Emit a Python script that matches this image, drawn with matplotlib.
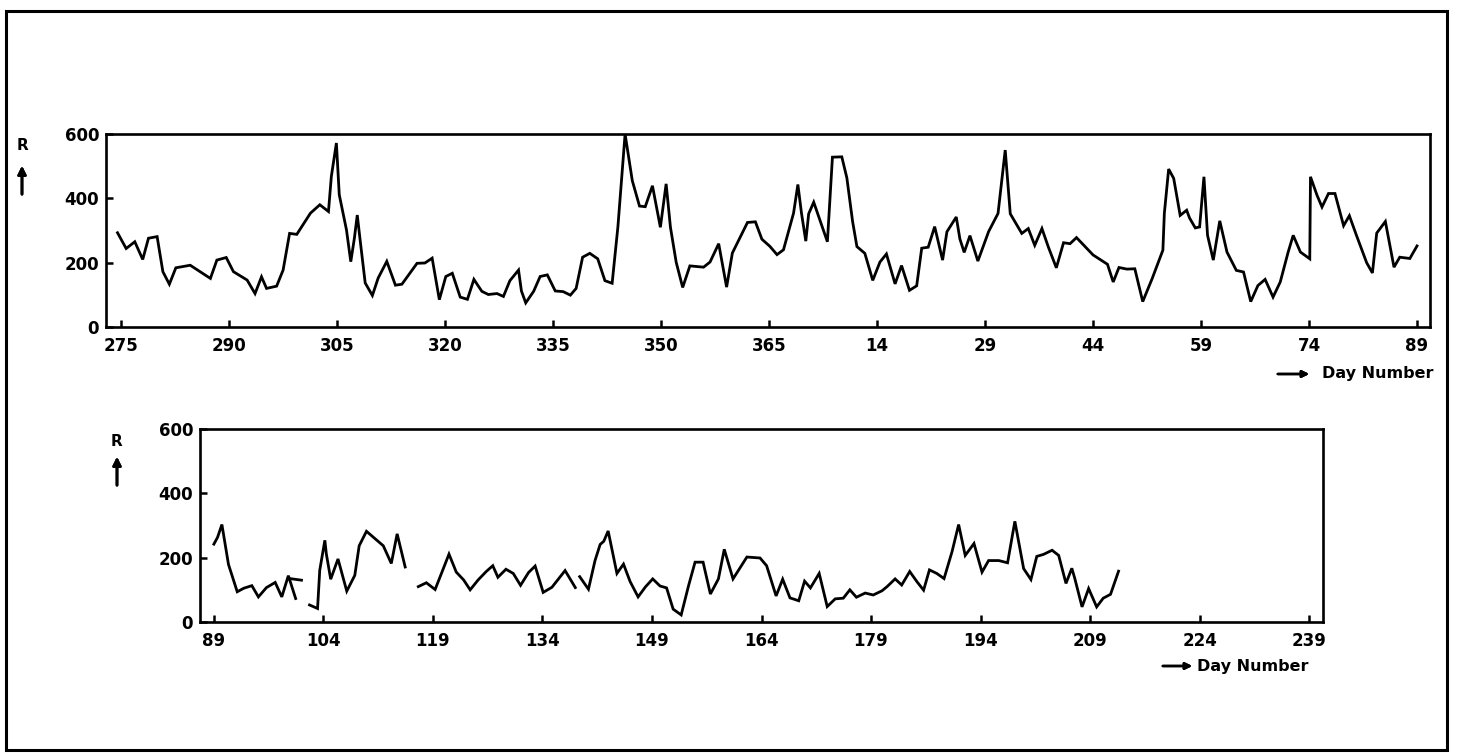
import numpy as np
import matplotlib
matplotlib.use("Agg")
import matplotlib.pyplot as plt
from matplotlib.patches import Rectangle

# upper panel: day index counted from day 275 (0) to day 89 of next year (180)
top_day = [-0.5, 0.7, 1.9, 3, 3.8, 5, 5.8, 6.7, 7.6, 9.6, 12.4, 13.3, 14.6, 15.6, 17.5, 18.6,
           19.5, 20.2, 21.6, 22.5, 23.4, 24.4, 26.3, 27.6, 28.8, 29.2, 29.9, 30.3, 31.3, 31.9,
           32.4, 32.8, 33.2, 33.9, 34.9, 35.7, 36.9, 38.1, 39, 39.9, 41.1, 42.2, 43.2, 44.2,
           45.1, 46, 47.1, 48.1, 49, 50.1, 51, 52.2, 53.1, 54, 55.2, 55.6, 56.2, 57.3, 58.2,
           59.2, 60.3, 61.4, 62.4, 63.2, 64.1, 65.1, 66.2, 67.2, 68.2, 69, 70, 71, 72, 72.8,
           73.8, 74.9, 75.7, 76.3, 77.1, 78, 79, 80.9, 81.8, 83, 84.1, 84.9, 87, 88.1, 89,
           90.1, 91.1, 92, 92.9, 93.4, 94, 94.5, 95.1, 95.5, 96.2, 97.1, 98.1, 98.8, 100.1,
           100.8, 101.6, 102.2, 103.3, 104.4, 105.4, 106.3, 107.5, 108.4, 109.5, 110.5, 111.2,
           112.1, 113, 114.1, 114.7, 116, 116.5, 117.1, 117.9, 119, 120.5, 121.8, 122.8, 123.5,
           125.1, 126, 126.9, 127.9, 128.8, 129.9, 130.9, 131.8, 132.7, 135, 137, 137.8, 138.6,
           139.7, 140.8, 141.9, 143.2, 144.7, 144.9, 145.5, 146.2, 147.1, 148, 148.4, 149.2,
           149.8, 150.4, 150.9, 151.7, 152.6, 153.6, 154.9, 155.9, 156.9, 157.9, 158.9, 160,
           161, 162.1, 162.8, 163.8, 165.1, 165.2, 166.1, 166.8, 167.7, 168.6, 169.8, 170.6,
           171.6, 173, 173.8, 174.4, 175.6, 176.8, 177.6, 179, 180]
top_r = [293, 244, 265, 210, 276, 281, 172, 133, 184, 192, 151, 208, 216, 172, 146, 104,
         156, 120, 127, 177, 291, 288, 354, 380, 359, 468, 572, 411, 302, 203,
         276, 348, 270, 137, 98, 152, 204, 130, 133, 161, 198, 199, 214, 85,
         157, 167, 93, 86, 148, 111, 101, 104, 95, 144, 177, 112, 75, 111, 157,
         162, 112, 110, 99, 120, 217, 229, 212, 144, 136, 311, 600, 455, 376, 374,
         439, 310, 445, 310, 201, 123, 190, 186, 202, 259, 124, 230, 325, 327, 273,
         251, 225, 240, 313, 354, 443, 354, 267, 352, 388, 330, 265, 528, 529,
         464, 328, 250, 229, 145, 202, 227, 134, 191, 114, 128, 245,
         248, 312, 208, 296, 342, 274, 232, 284, 205, 297, 353, 550, 352,
         291, 306, 254, 306, 248, 184, 262, 259, 278, 224, 195, 140, 185,
         180, 181, 79, 150, 239, 353, 491, 462, 347, 363, 339, 308,
         311, 467, 285, 208, 330, 233, 176, 171, 79, 129, 148, 93,
         140, 233, 285, 233, 212, 467, 410, 373, 415, 415, 315, 346,
         284, 200, 168, 292, 328, 186, 217, 213, 252]
top_ticks = [0, 15, 30, 45, 60, 75, 90, 105, 120, 135, 150, 165, 180]
top_labels = ["275", "290", "305", "320", "335", "350", "365", "14", "29", "44", "59", "74", "89"]

# lower panel: day index counted from day 89 (0); NaN = gap in record
bot_day = [0, 0.5, 1.1, 2, 3.2, 4.1, 5.2, 6.1, 7.2, 8.4, 9.3, 10.2, 11.2, np.nan,
           13.1, 14.2, 14.5, 15.2, 15.4, 16, 17, 18.2, 19.3, 19.9, 20.9, 23.2, 24.3, 25.1, 26.2, np.nan,
           28, 29.1, 30.3, 31.2, 32.2, 33.2, 34.2, 35.1, 36.2, 37.3, 38.2, 38.9, 40, 41, 42,
           43.1, 44, 45.1, 46.3, 47.2, 48.1, 49.5, np.nan,
           50.1, 51.3, 52.2, 52.9, 53.4, 54, 55.2, 56.1, 57, 58.1, 59.1, 60.1, 61.1, 62, 62.9,
           64, 65, 65.9, 67, 68, 69.1, 69.9, 71.1, 73, 74.8, 75.7, 77, 77.9, 78.9, 80.1, 80.9,
           81.7, 82.9, 84, 85.1, 86.2, 87.1, 88, 89.2, 90.3, 91.5, 92.2, 93.3, 94.2, 95.3, 96.3,
           97.2, 98, 99, 100, 101.1, 102, 102.9, 104.1, 105.2, 106.1, 107.5, 108.7, 109.7, 110.9,
           111.9, 112.7, 113.6, 114.8, 115.7, 116.7, 117.5, 117.9, 118.9, 119.8, 120.9, 121.8,
           122.8, 123.9]
bot_r = [242, 263, 303, 179, 94, 105, 113, 78, 107, 123, 78, 144, 73, np.nan,
         53, 42, 161, 254, 212, 133, 196, 96, 145, 237, 282, 237, 182, 274, 171, np.nan,
         110, 122, 101, 153, 211, 155, 131, 100, 131, 157, 175, 139, 164, 151, 114,
         154, 174, 92, 108, 134, 160, 107, np.nan,
         141, 102, 191, 241, 251, 283, 151, 180, 126, 78, 109, 134, 112, 106, 40,
         22, 112, 186, 186, 87, 134, 226, 134, 202, 199, 175, 81, 133, 75, 66, 127,
         106, 151, 48, 72, 74, 100, 77, 90, 84, 97, 110, 134, 115, 157, 125,
         99, 162, 151, 135, 219, 303, 207, 244, 155, 191, 191, 184, 313, 166,
         132, 204, 210, 223, 207, 120, 167, 136, 47, 104, 47, 74,
         86, 158]
fork_day = [10.4, 12]
fork_r = [135, 130]
bot_ticks = [0, 15, 30, 45, 60, 75, 90, 105, 120, 135, 150]
bot_labels = ["89", "104", "119", "134", "149", "164", "179", "194", "209", "224", "239"]

W, H = 1460, 756
fig = plt.figure(figsize=(W / 100, H / 100), dpi=100)
fig.patch.set_facecolor("white")


def px(x, y):
    return x / W, 1 - y / H


def style(ax, ticks, labels):
    ax.set_ylim(0, 600)
    ax.set_yticks([0, 200, 400, 600])
    ax.set_xticks(ticks)
    ax.set_xticklabels(labels)
    for s in ax.spines.values():
        s.set_linewidth(1.9)
    ax.tick_params(axis="x", direction="in", length=5, width=1.8, pad=7, labelsize=12)
    ax.tick_params(axis="y", direction="in", length=5, width=1.8, pad=5, labelsize=12)
    for t in ax.get_xticklabels() + ax.get_yticklabels():
        t.set_fontweight("bold")


ax1 = fig.add_axes([106 / W, 1 - 327 / H, 1324 / W, 193 / H])
ax1.plot(top_day, top_r, color="black", lw=2.0, solid_joinstyle="miter")
ax1.set_xlim(-2.1, 181.8)
style(ax1, top_ticks, top_labels)

ax2 = fig.add_axes([200 / W, 1 - 622 / H, 1123 / W, 193 / H])
ax2.plot(bot_day, bot_r, color="black", lw=2.0, solid_joinstyle="miter")
ax2.plot(fork_day, fork_r, color="black", lw=2.0)
ax2.set_xlim(-1.9, 151.9)
style(ax2, bot_ticks, bot_labels)

# "R" with upward arrow beside each y axis
for (rx, ry, a0, a1) in [(22, 146, 197, 163), (117, 441, 488, 454)]:
    fig.text(*px(rx, ry), "R", ha="center", va="center", fontsize=11, fontweight="bold")
    fig.add_artist(plt.annotate("", xy=px(rx, a1), xytext=px(rx, a0), xycoords="figure fraction",
                                arrowprops=dict(arrowstyle="-|>", color="black", lw=2,
                                                mutation_scale=12)))

# "-> Day Number" under each x axis
for (x0, x1, tx, ty) in [(1275, 1312, 1322, 374), (1160, 1195, 1197, 666)]:
    fig.add_artist(plt.annotate("", xy=px(x1, ty), xytext=px(x0, ty), xycoords="figure fraction",
                                arrowprops=dict(arrowstyle="-|>", color="black", lw=1.8,
                                                mutation_scale=10)))
    fig.text(*px(tx, ty), "Day Number", ha="left", va="center", fontsize=11.5, fontweight="bold")

# page frame of the scan
fig.add_artist(Rectangle((6 / W, 1 - 750 / H), 1441 / W, 739 / H, transform=fig.transFigure,
                         fill=False, edgecolor="black", lw=2.2))

fig.savefig("out.png", dpi=100, facecolor="white")
